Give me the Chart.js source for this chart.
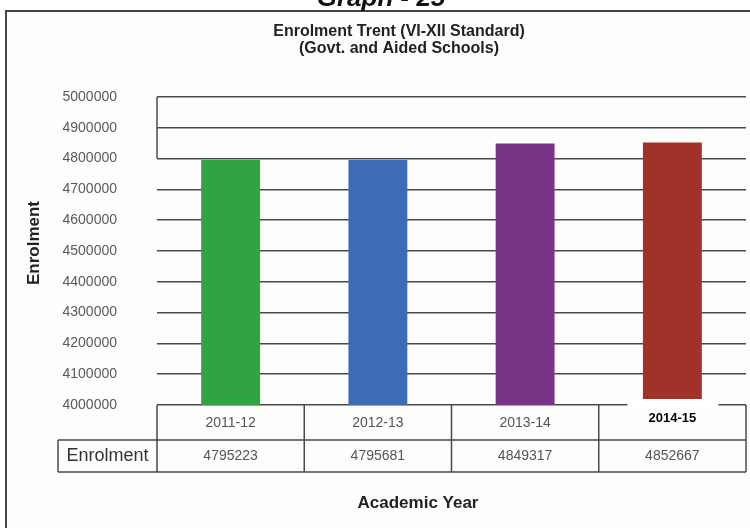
<!DOCTYPE html>
<html>
<head>
<meta charset="utf-8">
<title>Enrolment Trent</title>
<script src="https://cdn.jsdelivr.net/npm/chart.js@4/dist/chart.umd.min.js"></script>
<style>
  html, body { margin: 0; padding: 0; background: #fff; }
  #chart { display: block; }
</style>
</head>
<body>
<canvas id="chart" width="750" height="528"></canvas>
<script>
// --- data ---
const years = ['2011-12', '2012-13', '2013-14', '2014-15'];
const enrolment = [4795223, 4795681, 4849317, 4852667];
const barColors = ['#31a441', '#3d6cb5', '#7a3485', '#a1312b'];
const yMin = 4000000;
const yMax = 5000000;
const yStep = 100000;

const FONT = '"Liberation Sans", Arial, sans-serif';
const LINE = '#4a4a4a';

// page frame, heading and chart titles (drawn behind everything)
const framePlugin = {
  id: 'frame',
  beforeDraw(chart) {
    const ctx = chart.ctx;
    ctx.save();
    ctx.fillStyle = '#ffffff';
    ctx.fillRect(0, 0, chart.width, chart.height);
    ctx.fillStyle = '#fdfdfb';
    ctx.fillRect(6, 11, chart.width - 6, chart.height - 11);

    // outer border, only top and left are in view
    ctx.strokeStyle = '#444';
    ctx.lineWidth = 2;
    ctx.beginPath();
    ctx.moveTo(6, chart.height);
    ctx.lineTo(6, 11);
    ctx.lineTo(chart.width, 11);
    ctx.stroke();

    ctx.textAlign = 'center';
    ctx.fillStyle = '#111';
    ctx.font = 'italic bold 26px ' + FONT;
    ctx.textBaseline = 'alphabetic';
    ctx.fillText('Graph - 25', 381, 6);

    ctx.fillStyle = '#222';
    ctx.font = 'bold 16px ' + FONT;
    ctx.textBaseline = 'middle';
    ctx.fillText('Enrolment Trent (VI-XII Standard)', 399, 32);
    ctx.fillText('(Govt. and Aided Schools)', 399, 49);
    ctx.restore();
  }
};

// data table under the plot, axis titles
const tablePlugin = {
  id: 'table',
  afterDraw(chart) {
    const ctx = chart.ctx;
    const xs = chart.scales.x;
    const ys = chart.scales.y;
    const area = chart.chartArea;
    const step = (area.right - area.left) / years.length;
    const top = area.bottom;
    const mid = top + 35;
    const bottom = mid + 32;
    const labelLeft = 58;

    ctx.save();

    // left edge of the plot, upper part only
    ctx.strokeStyle = LINE;
    ctx.lineWidth = 1.5;
    ctx.beginPath();
    ctx.moveTo(area.left, ys.getPixelForValue(yMax));
    ctx.lineTo(area.left, ys.getPixelForValue(4800000));
    ctx.stroke();

    // white label patch on the last column
    const lastX = xs.getPixelForValue(years.length - 1);
    ctx.fillStyle = '#ffffff';
    ctx.fillRect(lastX - 45, top - 6, 91, 7.5);

    // grid of the table
    ctx.beginPath();
    ctx.moveTo(labelLeft, mid);
    ctx.lineTo(area.right, mid);
    ctx.moveTo(labelLeft, bottom);
    ctx.lineTo(area.right, bottom);
    ctx.moveTo(labelLeft, mid);
    ctx.lineTo(labelLeft, bottom);
    for (let i = 0; i <= years.length; i++) {
      const x = area.left + i * step;
      ctx.moveTo(x, top);
      ctx.lineTo(x, bottom);
    }
    ctx.stroke();

    ctx.textAlign = 'center';
    ctx.textBaseline = 'middle';
    years.forEach((y, i) => {
      const cx = xs.getPixelForValue(i);
      if (i === years.length - 1) {
        ctx.fillStyle = '#000';
        ctx.font = 'bold 13px ' + FONT;
        ctx.fillText(y, cx, top + 13);
      } else {
        ctx.fillStyle = '#555';
        ctx.font = '14px ' + FONT;
        ctx.fillText(y, cx, top + 18);
      }
      ctx.fillStyle = '#555';
      ctx.font = '14px ' + FONT;
      ctx.fillText(String(enrolment[i]), cx, mid + 16);
    });

    ctx.fillStyle = '#333';
    ctx.font = '18px ' + FONT;
    ctx.fillText('Enrolment', (labelLeft + area.left) / 2, mid + 16);

    // axis titles
    ctx.fillStyle = '#222';
    ctx.font = 'bold 17px ' + FONT;
    ctx.fillText('Academic Year', 418, 503);

    ctx.translate(34, 243);
    ctx.rotate(-Math.PI / 2);
    ctx.fillText('Enrolment', 0, 0);

    ctx.restore();
  }
};

new Chart(document.getElementById('chart'), {
  type: 'bar',
  data: {
    labels: years,
    datasets: [{
      label: 'Enrolment',
      data: enrolment,
      backgroundColor: barColors,
      borderWidth: 0,
      barPercentage: 0.4,
      categoryPercentage: 1.0,
    }],
  },
  options: {
    responsive: false,
    animation: false,
    devicePixelRatio: 1,
    layout: { padding: { top: 97, bottom: 123, left: 0, right: 4 } },
    plugins: {
      legend: { display: false },
      tooltip: { enabled: false },
    },
    scales: {
      x: { display: false },
      y: {
        min: yMin,
        max: yMax,
        afterFit(scale) { scale.width = 157; },
        ticks: {
          stepSize: yStep,
          padding: 40,
          color: '#5a5a5a',
          font: { family: FONT, size: 14 },
          callback: v => String(v),
        },
        grid: { color: LINE, lineWidth: 1.5, drawTicks: false },
        border: { display: false },
      },
    },
  },
  plugins: [framePlugin, tablePlugin],
});
</script>
</body>
</html>
